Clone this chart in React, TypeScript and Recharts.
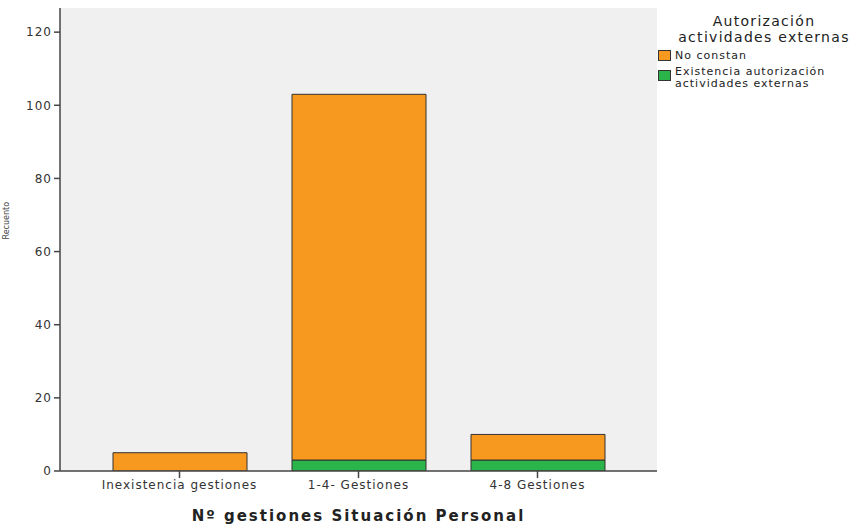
import React from 'react';
import { BarChart, Bar, XAxis, YAxis, CartesianGrid } from 'recharts';

const categories = ['Inexistencia gestiones', '1-4- Gestiones', '4-8 Gestiones'];
const existenciaValues = [0, 3, 3];
const noConstanValues = [5, 100, 7];
const yTicks = [0, 20, 40, 60, 80, 100, 120];
const seriesNames = ['No constan', 'Existencia autorización actividades externas'];

const data = categories.map((c, i) => ({
  name: c,
  existencia: existenciaValues[i],
  noConstan: noConstanValues[i],
}));

const ORANGE = '#f7991f';
const GREEN = '#2bb44a';
const FONT = '"DejaVu Sans", Arial, sans-serif';

const LegendBox = () => (
  <div style={{ position: 'absolute', left: 658, top: 13, width: 196, fontFamily: FONT, color: '#222' }}>
    <div style={{ textAlign: 'center', fontSize: 14, lineHeight: '16px', letterSpacing: 1.3, marginBottom: 4, marginLeft: 16, whiteSpace: 'nowrap' }}>
      Autorización<br />actividades externas
    </div>
    <div style={{ display: 'flex', alignItems: 'flex-start', fontSize: 11, lineHeight: '13px', letterSpacing: 1, marginBottom: 3 }}>
      <span style={{ width: 13, height: 11, background: ORANGE, border: '1px solid #333', marginRight: 4, marginTop: 1, boxSizing: 'border-box', flex: 'none' }} />
      <span style={{ whiteSpace: 'nowrap' }}>{seriesNames[0]}</span>
    </div>
    <div style={{ display: 'flex', alignItems: 'flex-start', fontSize: 11, lineHeight: '13px', letterSpacing: 1 }}>
      <span style={{ width: 13, height: 11, background: GREEN, border: '1px solid #333', marginRight: 4, marginTop: 5, boxSizing: 'border-box', flex: 'none' }} />
      <div style={{ whiteSpace: 'nowrap' }}>
        <div style={{ height: 12 }}>Existencia autorización</div>
        <div>actividades externas</div>
      </div>
    </div>
  </div>
);

export default function App() {
  return (
    <div style={{ position: 'absolute', left: 0, top: 0, width: 854, height: 526, background: '#fff' }}>
      <BarChart
        width={854}
        height={526}
        data={data}
        margin={{ top: 8, right: 197, bottom: 0, left: 0 }}
        barCategoryGap={0}
      >
        <CartesianGrid fill="#f0f0f0" horizontal={false} vertical={false} />
        <XAxis
          dataKey="name"
          padding={{ left: 30, right: 30 }}
          height={55}
          axisLine={{ stroke: '#444', strokeWidth: 1.5 }}
          tickLine={{ stroke: '#444', strokeWidth: 1.5 }}
          tickSize={7}
          tick={{ fontSize: 12, fill: '#333', fontFamily: FONT, letterSpacing: 1 }}
          label={{ value: 'Nº gestiones Situación Personal', position: 'insideBottom', offset: 5, style: { fontSize: 15, fontWeight: 'bold', fill: '#222', fontFamily: FONT, letterSpacing: 2 } }}
        />
        <XAxis
          xAxisId="top"
          dataKey="name"
          orientation="top"
          height={0}
          tick={false}
          tickLine={false}
          axisLine={{ stroke: '#888', strokeWidth: 1 }}
        />
        <YAxis
          width={60}
          domain={[0, 126.6]}
          ticks={yTicks}
          allowDataOverflow
          axisLine={{ stroke: '#444', strokeWidth: 1.5 }}
          tickLine={{ stroke: '#444', strokeWidth: 1.5 }}
          tickSize={6}
          tick={{ fontSize: 12, fill: '#333', fontFamily: FONT, letterSpacing: 1 }}
          label={{ value: 'Recuento', angle: -90, position: 'insideLeft', offset: 6, style: { fontSize: 8, fill: '#444', fontFamily: FONT } }}
        />
        <YAxis
          yAxisId="right"
          orientation="right"
          width={0}
          tick={false}
          tickLine={false}
          axisLine={{ stroke: '#888', strokeWidth: 1 }}
        />
        <Bar dataKey="existencia" stackId="a" fill={GREEN} stroke="#333" strokeWidth={1} barSize={134} isAnimationActive={false} name={seriesNames[1]} />
        <Bar dataKey="noConstan" stackId="a" fill={ORANGE} stroke="#333" strokeWidth={1} barSize={134} isAnimationActive={false} name={seriesNames[0]} />
      </BarChart>
      <LegendBox />
    </div>
  );
}
